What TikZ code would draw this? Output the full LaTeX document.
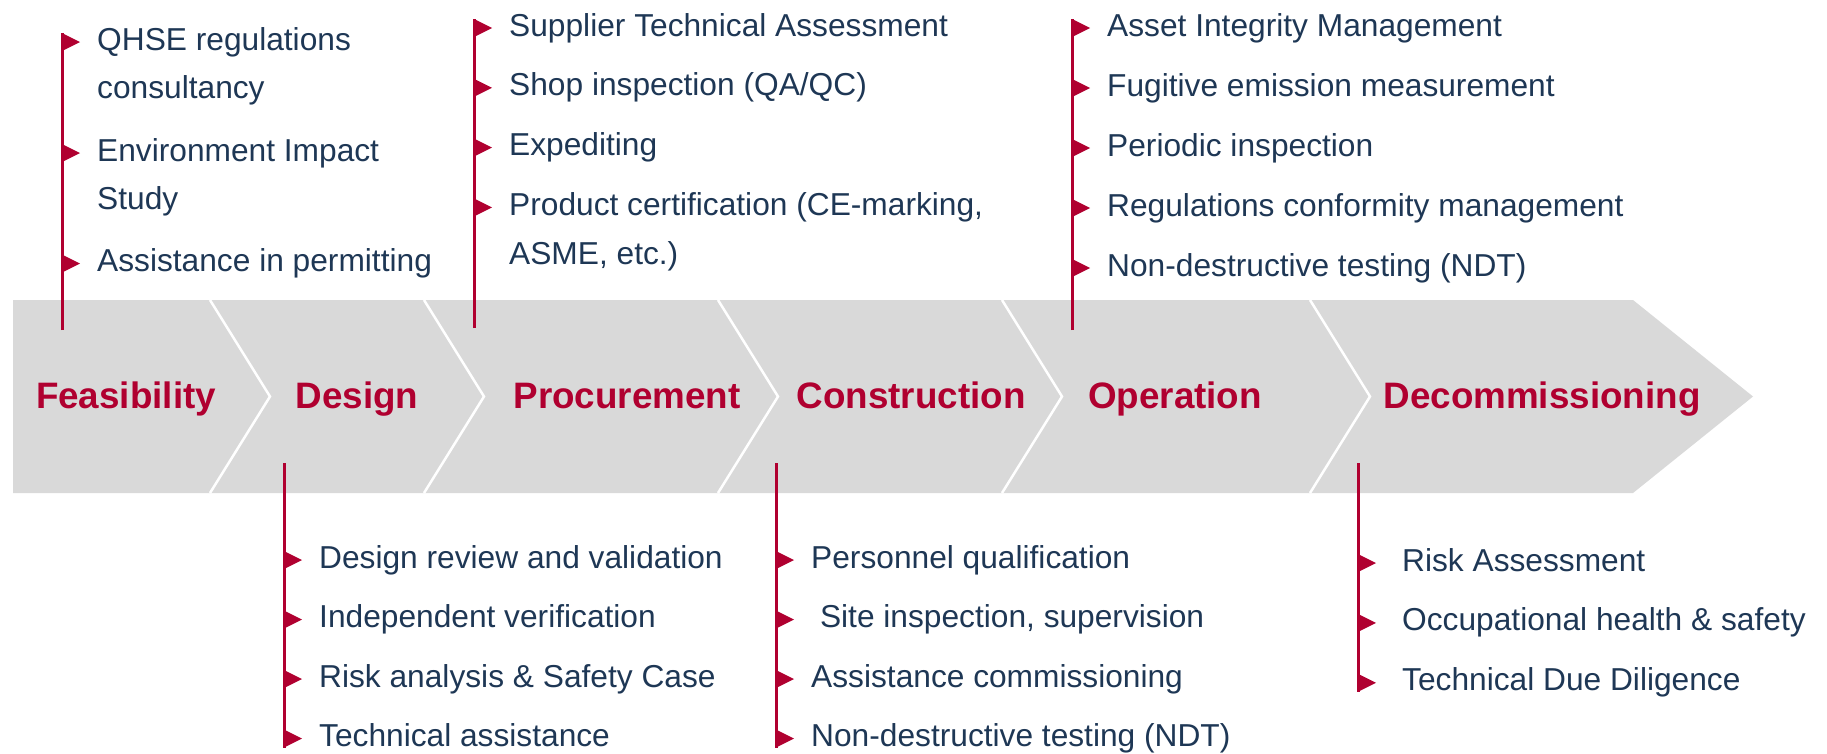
\documentclass[tikz,border=0pt]{standalone}
\usepackage{fontspec}
\setmainfont{Liberation Sans}
\usetikzlibrary{positioning}
\definecolor{phasered}{RGB}{176,0,48}
\definecolor{itemnavy}{RGB}{30,55,85}
\definecolor{bandgray}{RGB}{217,217,217}

\begin{document}
\begin{tikzpicture}[
  x=1pt, y=1pt,
  band/.style={fill=bandgray},
  chevcut/.style={draw=white, line width=2.5pt},
  phase/.style={font=\fontsize{36.8}{44}\selectfont\bfseries, text=phasered,
                anchor=base, inner sep=0pt},
  item/.style={font=\fontsize{31.7}{38}\selectfont, text=itemnavy, inner sep=0pt,
               text height=26.8pt, text depth=10.8pt, anchor=north west},
  lead/.style={item, anchor=west},
  stem/.style={draw=phasered, line width=3pt},
  bullet/.style={fill=phasered},
]
  \useasboundingbox (0,0) rectangle (1827,-753);

  % Life-cycle band
  \fill[band] (13,-300) -- (1633,-300) -- (1753,-396.5) -- (1633,-493) -- (13,-493) -- cycle;
  \draw[chevcut] (210,-300) -- ++(60,-96.5) -- ++(-60,-96.5);
  \draw[chevcut] (424,-300) -- ++(60,-96.5) -- ++(-60,-96.5);
  \draw[chevcut] (718,-300) -- ++(60,-96.5) -- ++(-60,-96.5);
  \draw[chevcut] (1002,-300) -- ++(60,-96.5) -- ++(-60,-96.5);
  \draw[chevcut] (1310,-300) -- ++(60,-96.5) -- ++(-60,-96.5);

  \node[phase] (feas) at (126,-408) {Feasibility};
  \node[phase] (desg) at (357,-408) {Design};
  \node[phase] (proc) at (627,-408) {Procurement};
  \node[phase] (cons) at (911,-408) {Construction};
  \node[phase] (oper) at (1175,-408) {Operation};
  \node[phase] (deco) at (1542,-408) {Decommissioning};

  % Feasibility (top)
  \node[lead] (f1) at (97,-42) {QHSE regulations};
  \node[below=10.9pt of f1.south west, item] (f2) {consultancy};
  \node[below=24.1pt of f2.south west, item] (f3) {Environment Impact};
  \node[below=10.9pt of f3.south west, item] (f4) {Study};
  \node[below=23.7pt of f4.south west, item] (f5) {Assistance in permitting};
  \coordinate (fs) at (62,-330);
  \draw[stem] (fs) -- (fs |- f1.west) -- ++(0,9);
  \fill[bullet] (fs |- f1.west) -- ++(0,9) -- ++(18,-9) -- ++(-18,-9) -- cycle;
  \fill[bullet] (fs |- f3.west) -- ++(0,9) -- ++(18,-9) -- ++(-18,-9) -- cycle;
  \fill[bullet] (fs |- f5.west) -- ++(0,9) -- ++(18,-9) -- ++(-18,-9) -- cycle;

  % Procurement (top)
  \node[lead] (p1) at (509,-28) {Supplier Technical Assessment};
  \node[below=21.8pt of p1.south west, item] (p2) {Shop inspection (QA/QC)};
  \node[below=21.8pt of p2.south west, item] (p3) {Expediting};
  \node[below=21.8pt of p3.south west, item] (p4) {Product certification (CE-marking,};
  \node[below=10.9pt of p4.south west, item] (p5) {ASME, etc.)};
  \coordinate (ps) at (474,-328);
  \draw[stem] (ps) -- (ps |- p1.west) -- ++(0,9);
  \fill[bullet] (ps |- p1.west) -- ++(0,9) -- ++(18,-9) -- ++(-18,-9) -- cycle;
  \fill[bullet] (ps |- p2.west) -- ++(0,9) -- ++(18,-9) -- ++(-18,-9) -- cycle;
  \fill[bullet] (ps |- p3.west) -- ++(0,9) -- ++(18,-9) -- ++(-18,-9) -- cycle;
  \fill[bullet] (ps |- p4.west) -- ++(0,9) -- ++(18,-9) -- ++(-18,-9) -- cycle;

  % Operation (top)
  \node[lead] (o1) at (1107,-28) {Asset Integrity Management};
  \node[below=22pt of o1.south west, item] (o2) {Fugitive emission measurement};
  \node[below=22pt of o2.south west, item] (o3) {Periodic inspection};
  \node[below=22pt of o3.south west, item] (o4) {Regulations conformity management};
  \node[below=22pt of o4.south west, item] (o5) {Non-destructive testing (NDT)};
  \coordinate (os) at (1072,-330);
  \draw[stem] (os) -- (os |- o1.west) -- ++(0,9);
  \fill[bullet] (os |- o1.west) -- ++(0,9) -- ++(18,-9) -- ++(-18,-9) -- cycle;
  \fill[bullet] (os |- o2.west) -- ++(0,9) -- ++(18,-9) -- ++(-18,-9) -- cycle;
  \fill[bullet] (os |- o3.west) -- ++(0,9) -- ++(18,-9) -- ++(-18,-9) -- cycle;
  \fill[bullet] (os |- o4.west) -- ++(0,9) -- ++(18,-9) -- ++(-18,-9) -- cycle;
  \fill[bullet] (os |- o5.west) -- ++(0,9) -- ++(18,-9) -- ++(-18,-9) -- cycle;

  % Design (bottom)
  \node[lead] (d1) at (319,-560) {Design review and validation};
  \node[below=21.5pt of d1.south west, item] (d2) {Independent verification};
  \node[below=21.5pt of d2.south west, item] (d3) {Risk analysis \& Safety Case};
  \node[below=21.5pt of d3.south west, item] (d4) {Technical assistance};
  \coordinate (ds) at (284,-463);
  \draw[stem] (ds) -- (ds |- d4.west) -- ++(0,-9);
  \fill[bullet] (ds |- d1.west) -- ++(0,9) -- ++(18,-9) -- ++(-18,-9) -- cycle;
  \fill[bullet] (ds |- d2.west) -- ++(0,9) -- ++(18,-9) -- ++(-18,-9) -- cycle;
  \fill[bullet] (ds |- d3.west) -- ++(0,9) -- ++(18,-9) -- ++(-18,-9) -- cycle;
  \fill[bullet] (ds |- d4.west) -- ++(0,9) -- ++(18,-9) -- ++(-18,-9) -- cycle;

  % Construction (bottom)
  \node[lead] (c1) at (811,-560) {Personnel qualification};
  \node[below=21.5pt of c1.south west, item] (c2) {\ Site inspection, supervision};
  \node[below=21.5pt of c2.south west, item] (c3) {Assistance commissioning};
  \node[below=21.5pt of c3.south west, item] (c4) {Non-destructive testing (NDT)};
  \coordinate (cs) at (776,-463);
  \draw[stem] (cs) -- (cs |- c4.west) -- ++(0,-9);
  \fill[bullet] (cs |- c1.west) -- ++(0,9) -- ++(18,-9) -- ++(-18,-9) -- cycle;
  \fill[bullet] (cs |- c2.west) -- ++(0,9) -- ++(18,-9) -- ++(-18,-9) -- cycle;
  \fill[bullet] (cs |- c3.west) -- ++(0,9) -- ++(18,-9) -- ++(-18,-9) -- cycle;
  \fill[bullet] (cs |- c4.west) -- ++(0,9) -- ++(18,-9) -- ++(-18,-9) -- cycle;

  % Decommissioning (bottom)
  \node[lead] (r1) at (1402,-563) {Risk Assessment};
  \node[below=21.9pt of r1.south west, item] (r2) {Occupational health \& safety};
  \node[below=21.9pt of r2.south west, item] (r3) {Technical Due Diligence};
  \coordinate (rs) at (1358,-463);
  \draw[stem] (rs) -- (rs |- r3.west) -- ++(0,-9);
  \fill[bullet] (rs |- r1.west) -- ++(0,9) -- ++(18,-9) -- ++(-18,-9) -- cycle;
  \fill[bullet] (rs |- r2.west) -- ++(0,9) -- ++(18,-9) -- ++(-18,-9) -- cycle;
  \fill[bullet] (rs |- r3.west) -- ++(0,9) -- ++(18,-9) -- ++(-18,-9) -- cycle;
\end{tikzpicture}
\end{document}
